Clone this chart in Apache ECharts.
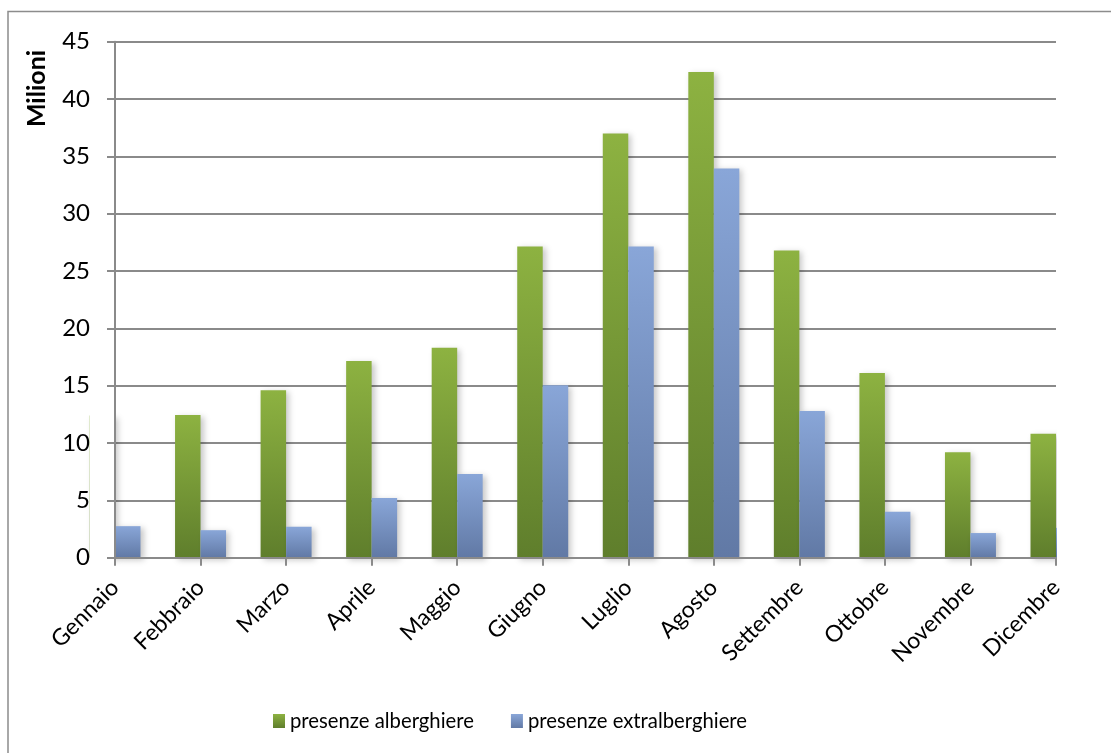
<!DOCTYPE html>
<html>
<head>
<meta charset="utf-8">
<script src="https://cdn.jsdelivr.net/npm/echarts@6/dist/echarts.min.js"></script>
<style>
html,body{margin:0;padding:0;background:#fff;}
#chart{width:1111px;height:753px;}
</style>
</head>
<body>
<div id="chart"></div>
<script>
const categories = ['Gennaio','Febbraio','Marzo','Aprile','Maggio','Giugno','Luglio','Agosto','Settembre','Ottobre','Novembre','Dicembre'];
const alberghiere = [12.4, 12.45, 14.6, 17.15, 18.3, 27.15, 37.0, 42.35, 26.8, 16.1, 9.2, 10.8];
const extralberghiere = [2.75, 2.4, 2.7, 5.2, 7.3, 15.05, 27.15, 33.95, 12.8, 4.0, 2.15, 2.6];
const seriesNames = ['presenze alberghiere', 'presenze extralberghiere'];
const yTicks = [0, 5, 10, 15, 20, 25, 30, 35, 40, 45];

const FONT = 'Lato, "Open Sans", sans-serif';
const chart = echarts.init(document.getElementById('chart'), null, {renderer: 'canvas'});

function grad(top, bottom) {
  return new echarts.graphic.LinearGradient(0, 0, 0, 1, [
    {offset: 0, color: top}, {offset: 1, color: bottom}
  ]);
}

const barShadow = {
  shadowBlur: 6, shadowColor: 'rgba(0,0,0,0.22)', shadowOffsetX: 3, shadowOffsetY: 2
};

const gridL = 115, gridR = 55, gridT = 41.7, gridB = 195.3;

chart.setOption({
  animation: false,
  backgroundColor: '#fff',
  graphic: [
    {type: 'rect', z: 0, shape: {x: 8, y: 11.5, width: 1300, height: 900},
     style: {fill: 'none', stroke: '#8c8c8c', lineWidth: 1.5}, silent: true},
    // masks hiding the parts of the edge bars that fall outside the plot area
    {type: 'rect', z: 5, shape: {x: 89.5, y: 20, width: gridL - 1 - 89.5, height: 753 - gridB - 20 + 10},
     style: {fill: '#fff'}, silent: true},
    {type: 'rect', z: 5, shape: {x: 1111 - gridR + 1, y: 20, width: 45, height: 753 - gridB - 20 + 10},
     style: {fill: '#fff'}, silent: true},
    {type: 'text', z: 20, x: 37, y: 88.5, rotation: Math.PI / 2,
     style: {text: 'Milioni', font: 'bold 25px ' + FONT, fill: '#000', align: 'center', verticalAlign: 'middle'}}
  ],
  grid: {left: gridL, right: gridR, top: gridT, bottom: gridB, containLabel: false},
  legend: {
    bottom: 17, left: 268,
    itemWidth: 12, itemHeight: 14, itemGap: 37,
    icon: 'rect',
    textStyle: {fontFamily: FONT, fontSize: 20.3, color: '#000', padding: [0, 0, 0, 0]},
    data: seriesNames
  },
  xAxis: {
    type: 'category',
    data: categories,
    boundaryGap: false,
    z: 10,
    axisLine: {lineStyle: {color: '#8a8a8a', width: 2}},
    axisTick: {show: true, length: 8, lineStyle: {color: '#8a8a8a', width: 2}},
    axisLabel: {rotate: 45, margin: 26, fontFamily: FONT, fontSize: 23, color: '#000', interval: 0},
    splitLine: {show: false}
  },
  yAxis: [
    {
      type: 'value', position: 'left',
      min: yTicks[0], max: yTicks[yTicks.length - 1], interval: 5,
      z: 0,
      axisLine: {show: false},
      axisTick: {show: false},
      axisLabel: {show: false},
      splitLine: {show: true, lineStyle: {color: '#8a8a8a', width: 2}}
    },
    {
      type: 'value', position: 'left', offset: 0,
      min: yTicks[0], max: yTicks[yTicks.length - 1], interval: 5,
      z: 10,
      axisLine: {show: true, lineStyle: {color: '#8a8a8a', width: 2}},
      axisTick: {show: true, length: 8, lineStyle: {color: '#8a8a8a', width: 2}},
      axisLabel: {margin: 25, fontFamily: FONT, fontSize: 24, color: '#000'},
      splitLine: {show: false}
    }
  ],
  series: [
    {
      name: seriesNames[0], type: 'bar', data: alberghiere, yAxisIndex: 0,
      barWidth: 25.5, barGap: '0%',
      itemStyle: Object.assign({color: grad('#8db241', '#5f7e2c')}, barShadow)
    },
    {
      name: seriesNames[1], type: 'bar', data: extralberghiere, yAxisIndex: 0,
      barWidth: 25.5, barGap: '0%',
      itemStyle: Object.assign({color: grad('#89a6d8', '#6179a5')}, barShadow)
    }
  ]
});
</script>
</body>
</html>
